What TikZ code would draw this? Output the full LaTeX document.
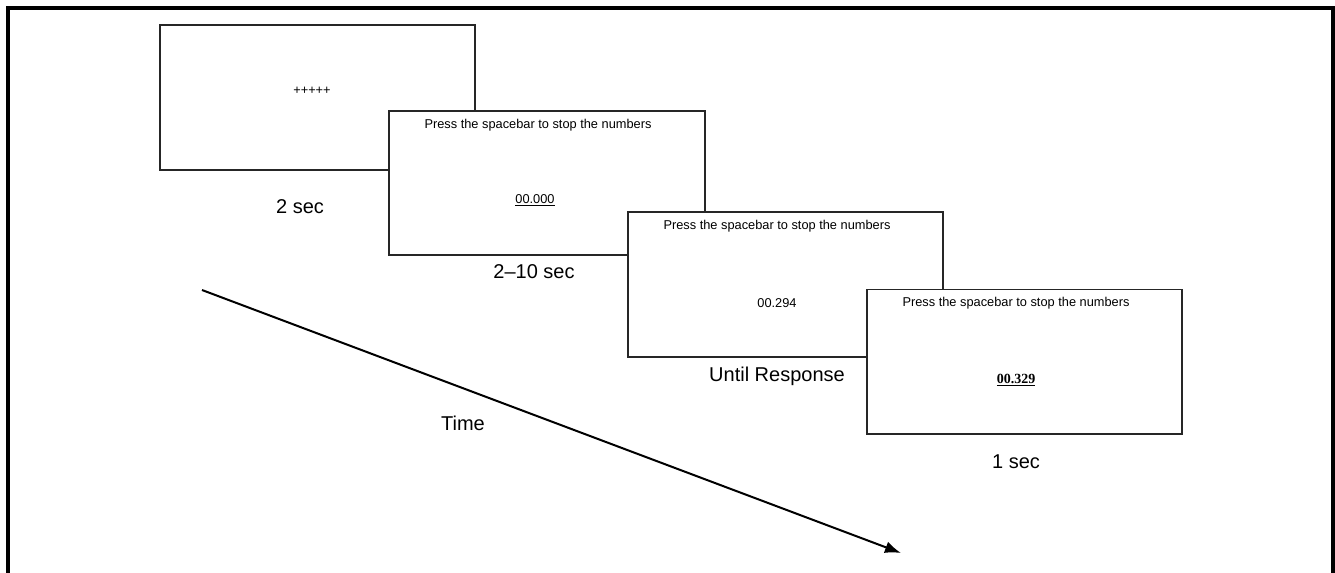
\documentclass[tikz,border=0pt]{standalone}
\usepackage{fontspec}
\setmainfont{Liberation Sans}
\newfontfamily\timesfont{Liberation Serif}
\usetikzlibrary{arrows.meta}
\tikzset{
  screen/.style={draw=black!85, line width=1.4pt, fill=white, inner sep=0pt,
    minimum width=236.5pt, minimum height=108.5pt},
  small/.style={inner sep=0pt, font=\fontsize{9.6}{11}\selectfont},
  lbl/.style={inner sep=0pt, font=\fontsize{15}{17}\selectfont},
  frame/.style={line width=2.3pt, line cap=rect},
  timearrow/.style={line width=1.5pt, -{Latex[length=12pt,width=9pt]}}
}
\begin{document}
\begin{tikzpicture}[x=0.75pt,y=-0.75pt]
\useasboundingbox (0,0) rectangle (1335,572);
% outer frame (open at the bottom)
\coordinate (fbl) at (8,572);
\coordinate (ftl) at (8,8);
\coordinate (ftr) at (1333,8);
\coordinate (fbr) at (1333,572);
\draw[frame] (fbl) -- (ftl) -- (ftr) -- (fbr);

% screens
\node[screen] (b1) at (317.5,97.5) {};
\node[small] (t1) at (312,91) {+++++};
\node[lbl] (l1) at (300,207) {2 sec};

\node[screen] (b2) at (547,183) {};
\node[small] (p2) at (538,125) {Press the spacebar to stop the numbers};
\node[small] (n2) at (535,200) {\underline{00.000}};
\node[lbl] (l2) at (534,272) {2--10 sec};

\node[screen] (b3) at (785.5,284.7) {};
\node[small] (p3) at (777,226) {Press the spacebar to stop the numbers};
\node[small] (n3) at (777,303) {00.294};
\node[lbl] (l3) at (777,376) {Until Response};

\node[screen] (b4) at (1024.7,361.8) {};
\node[small] (p4) at (1016,303) {Press the spacebar to stop the numbers};
\node[small, font=\fontsize{10.5}{12}\selectfont\timesfont\bfseries] (n4) at (1016,380) {\underline{00.329}};
\node[lbl] (l4) at (1016,462) {1 sec};

% time arrow
\coordinate (as) at (202,290);
\coordinate (ae) at (901,553);
\draw[timearrow] (as) -- (ae);
\node[lbl] (time) at (463,423) {Time};
\end{tikzpicture}
\end{document}
